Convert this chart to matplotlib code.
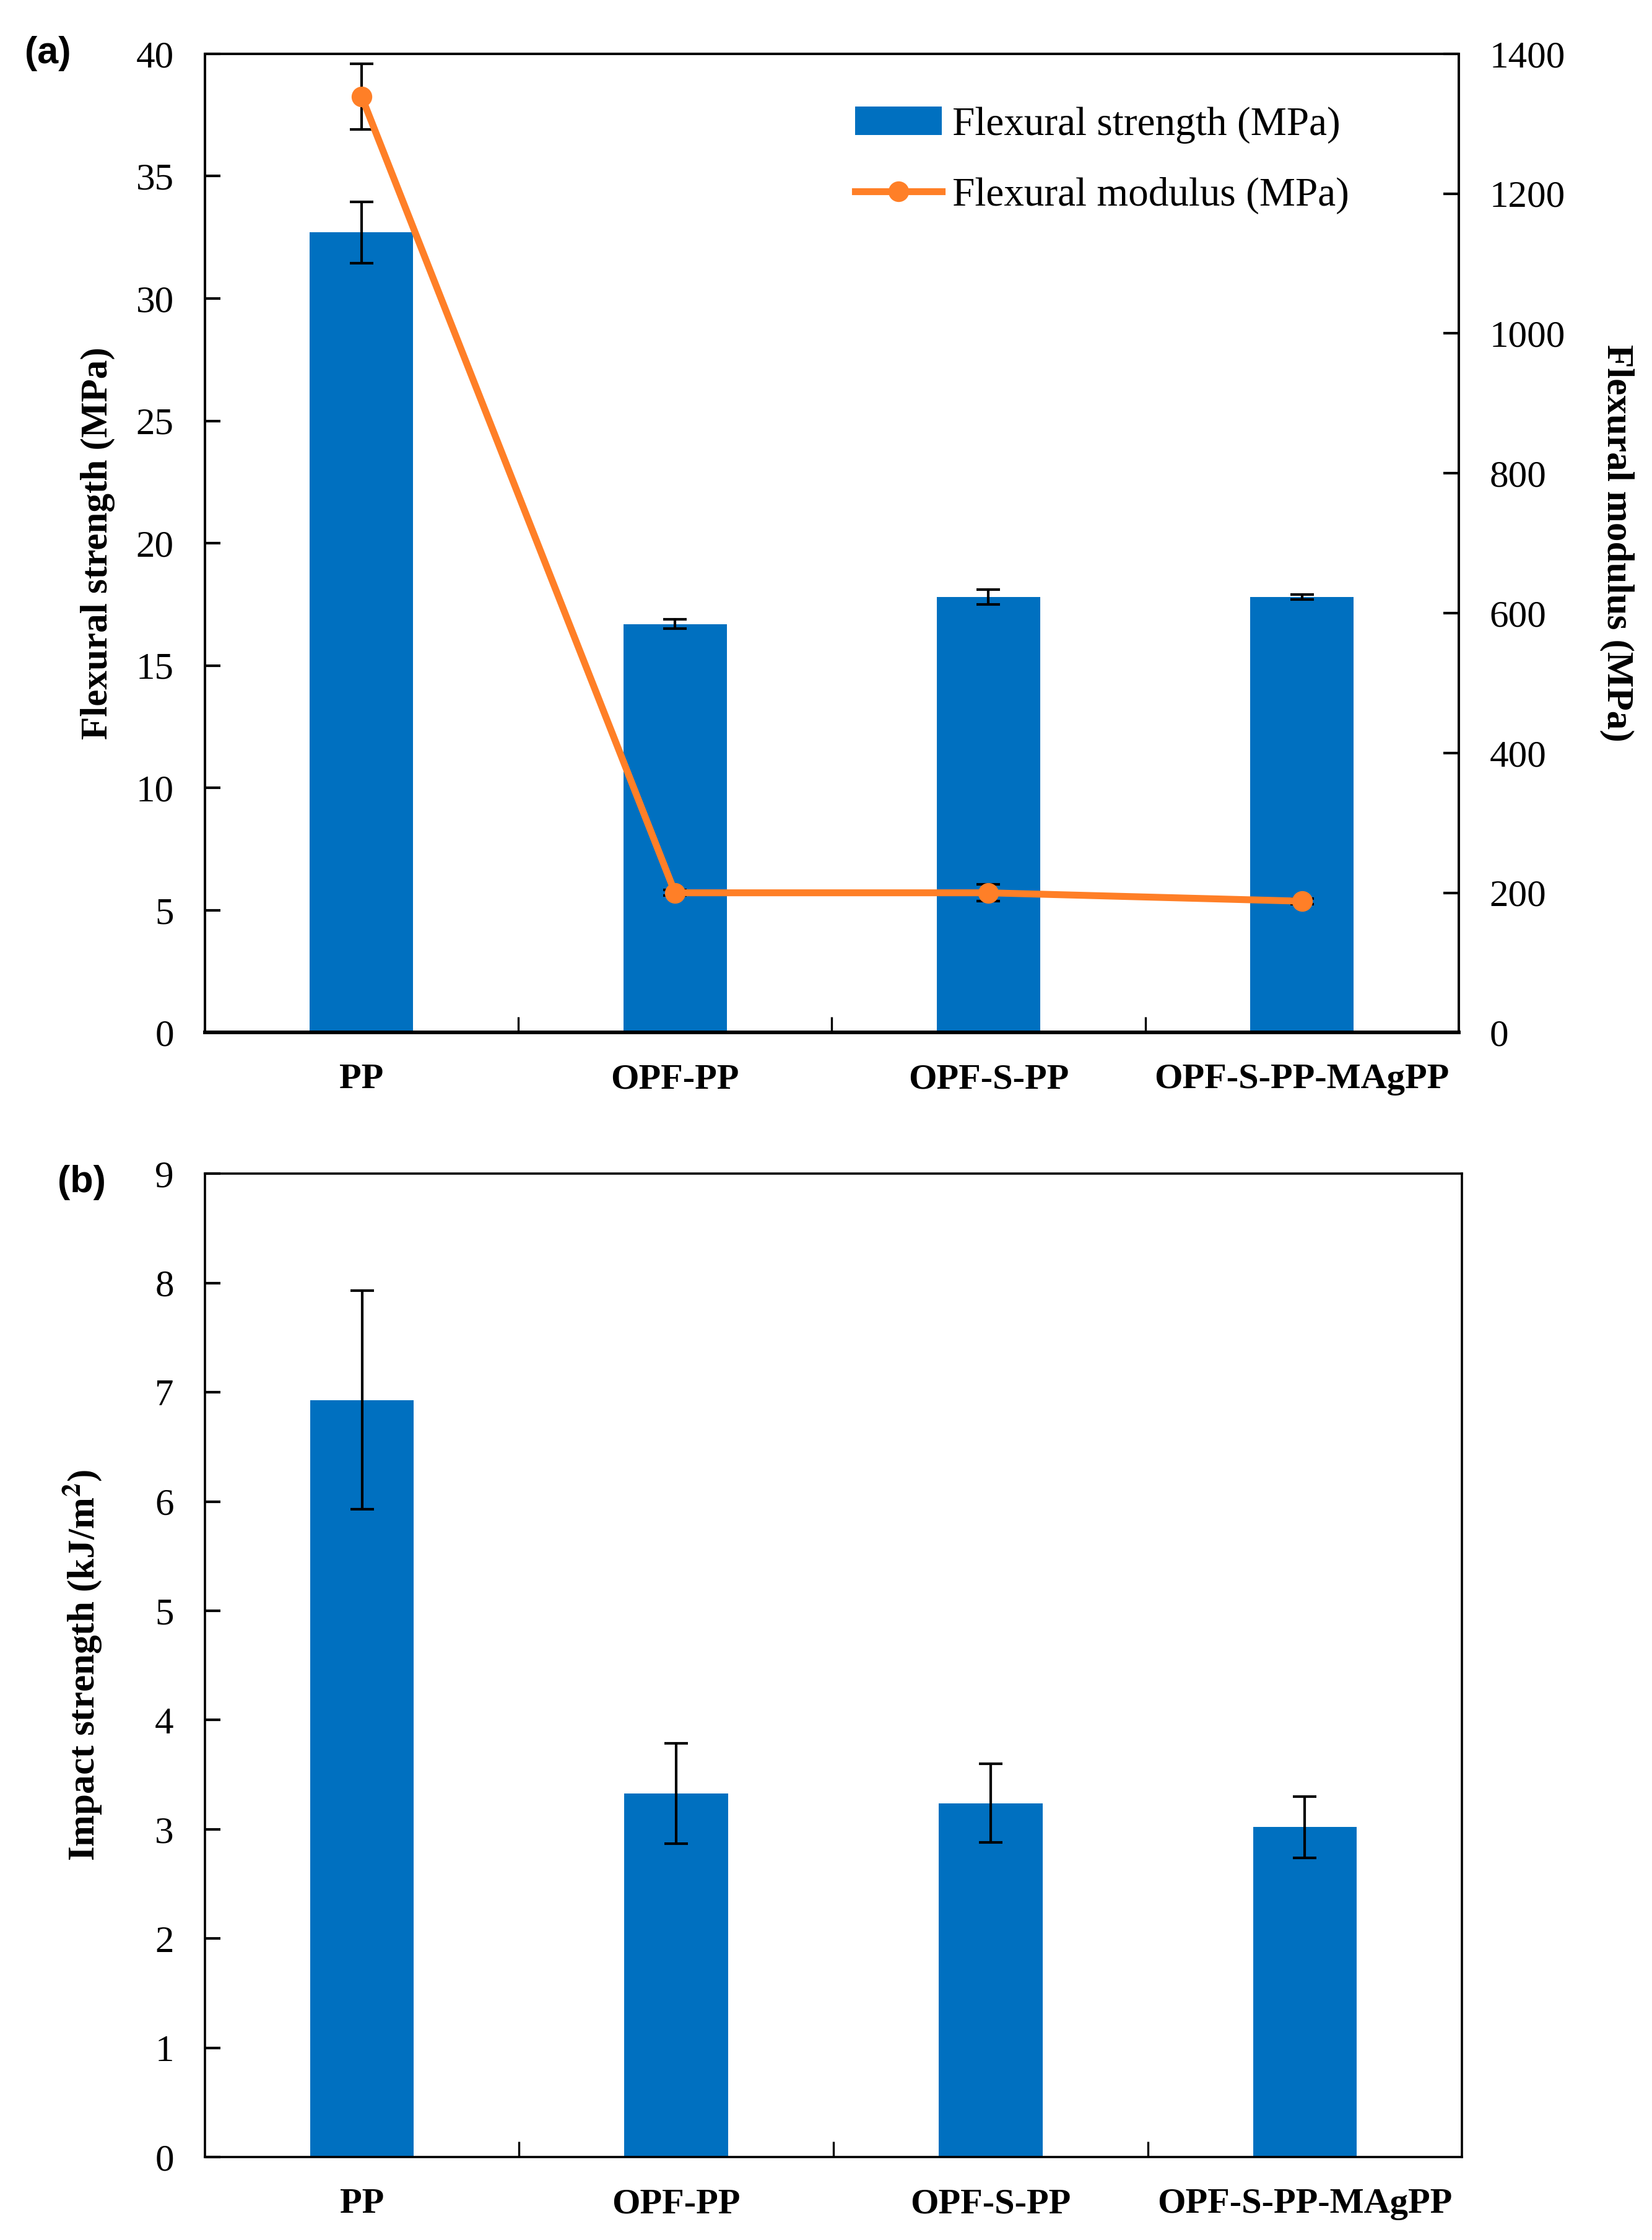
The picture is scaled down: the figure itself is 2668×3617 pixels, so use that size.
import matplotlib
matplotlib.use("Agg")
import matplotlib.pyplot as plt
import numpy as np

# data
samples = ["PP", "OPF-PP", "OPF-S-PP", "OPF-S-PP-MAgPP"]
flex_strength = [32.7, 16.7, 17.8, 17.8]
flex_strength_err = [1.25, 0.2, 0.3, 0.1]
flex_modulus = [1339, 200, 200, 188]
flex_modulus_err = [47, 4, 12, 4]
impact_strength = [6.93, 3.33, 3.24, 3.02]
impact_strength_err = [1.0, 0.46, 0.36, 0.28]

bar_col = "#0070C0"
line_col = "#FF7F27"
serif = ["Liberation Serif", "DejaVu Serif"]

plt.rcParams['font.family'] = serif
plt.rcParams['mathtext.fontset'] = 'stix'

fig = plt.figure(figsize=(13.34, 18.085), dpi=200)
ax_a = fig.add_axes([0.124, 0.539, 0.759, 0.437])
ax_b = fig.add_axes([0.124, 0.037, 0.761, 0.439])

x = np.arange(len(samples))
bw = 0.33


def style_axis(ax, bottom_lw=2.0):
    for s in ax.spines.values():
        s.set_linewidth(1.3)
    ax.spines['bottom'].set_linewidth(bottom_lw)
    ax.set_xlim(-0.5, len(samples) - 0.5)
    ax.set_xticks(x)
    ax.set_xticklabels(samples, fontsize=21, fontweight="bold")
    ax.tick_params(axis='x', which='major', length=0, pad=18)
    ax.set_xticks(x[:-1] + 0.5, minor=True)
    ax.tick_params(axis='x', which='minor', direction='in', length=9, width=1.2)
    ax.tick_params(axis='y', direction='in', length=9, width=1.5, labelsize=22, pad=18)


# ---- panel (a)
ax_a.bar(x, flex_strength, width=bw, color=bar_col, label="Flexural strength (MPa)", zorder=2)
ax_a.errorbar(x, flex_strength, yerr=flex_strength_err, fmt='none', ecolor='black',
              elinewidth=1.5, capsize=7, capthick=1.5, zorder=3)
ax_a.set_ylim(0, 40)
ax_a.set_yticks(np.arange(0, 41, 5))
style_axis(ax_a)
ax_a.set_ylabel("Flexural strength (MPa)", fontsize=22, fontweight="bold", labelpad=12)

ax2 = ax_a.twinx()
ax2.errorbar(x, flex_modulus, yerr=flex_modulus_err, fmt='none', ecolor='black',
             elinewidth=1.5, capsize=7, capthick=1.5, zorder=3)
ln, = ax2.plot(x, flex_modulus, color=line_col, lw=4, marker='o', markersize=11,
               label="Flexural modulus (MPa)", zorder=4)
ax2.set_ylim(0, 1400)
ax2.set_yticks(np.arange(0, 1401, 200))
ax2.tick_params(axis='y', direction='in', length=9, width=1.5, labelsize=22, pad=18)
ax2.set_ylabel("Flexural modulus (MPa)", fontsize=22, fontweight="bold",
               rotation=-90, labelpad=40)
for s in ax2.spines.values():
    s.set_linewidth(1.3)
ax2.spines['bottom'].set_linewidth(2.0)

h1, l1 = ax_a.get_legend_handles_labels()
ax2.legend(h1 + [ln], l1 + [ln.get_label()], loc='upper right', bbox_to_anchor=(0.935, 0.975),
           frameon=False, fontsize=23.5, handlelength=2.15, handletextpad=0.25,
           labelspacing=0.83, borderaxespad=0.3)

# ---- panel (b)
ax_b.bar(x, impact_strength, width=bw, color=bar_col, zorder=2)
ax_b.errorbar(x, impact_strength, yerr=impact_strength_err, fmt='none', ecolor='black',
              elinewidth=1.5, capsize=7, capthick=1.5, zorder=3)
ax_b.set_ylim(0, 9)
ax_b.set_yticks(np.arange(0, 10, 1))
style_axis(ax_b, bottom_lw=1.3)
ax_b.set_ylabel("Impact strength (kJ/m$^\\mathbf{2}$)", fontsize=22, fontweight="bold", labelpad=30)

fig.text(0.015, 0.976, "(a)", fontsize=22, fontweight="bold",
         family=["Liberation Sans", "DejaVu Sans"], va='center')
fig.text(0.035, 0.472, "(b)", fontsize=22, fontweight="bold",
         family=["Liberation Sans", "DejaVu Sans"], va='center')

fig.savefig("out.png", dpi=200)
